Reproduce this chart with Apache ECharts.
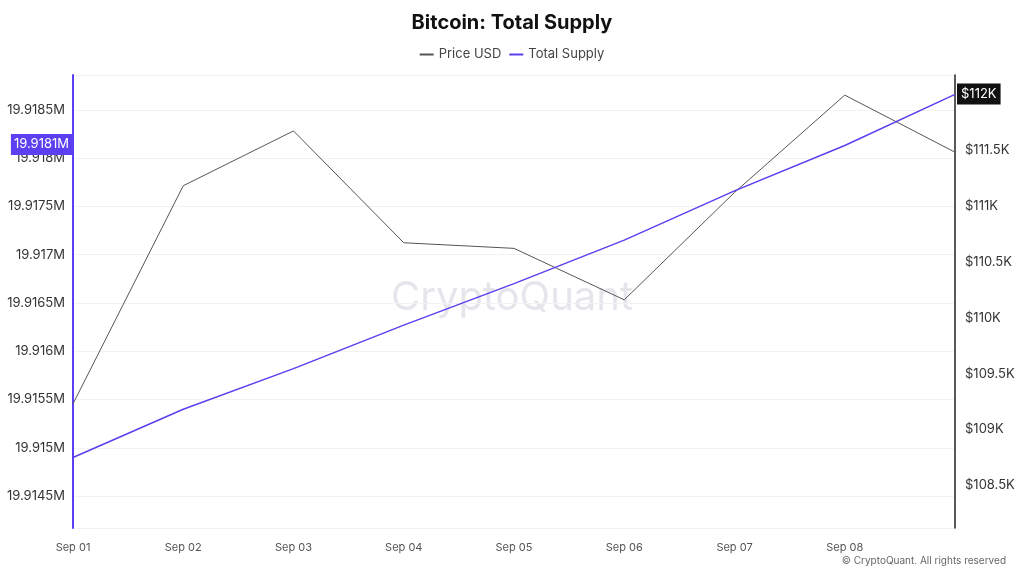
<!DOCTYPE html>
<html>
<head>
<meta charset="utf-8">
<script src="https://cdn.jsdelivr.net/npm/echarts@6/dist/echarts.min.js"></script>
<style>html,body{margin:0;padding:0;background:#fff}#main{width:1024px;height:574px}</style>
</head>
<body>
<div id="main"></div>
<script>
// values
var days = ['Sep 01', 'Sep 02', 'Sep 03', 'Sep 04', 'Sep 05', 'Sep 06', 'Sep 07', 'Sep 08', 'Sep 09'];
var priceUsd = [109.23, 111.18, 111.67, 110.67, 110.62, 110.16, 111.12, 111.99, 111.48];
var totalSupply = [19.91490, 19.91540, 19.91582, 19.91627, 19.91670, 19.91715, 19.91766, 19.91813, 19.91866];
var supplyTag = 19.91814;
var priceTag = 112.0;

var myChart = echarts.init(document.getElementById('main'));

var option = {
    title: {
        text: 'Bitcoin: Total Supply',
        left: 'center',
        top: 8,
        textStyle: { fontFamily: 'Inter', fontSize: 20, fontWeight: 'bold', color: '#111' }
    },
    legend: {
        top: 43,
        itemWidth: 14, itemHeight: 2, icon: 'rect',
        textStyle: { fontFamily: 'Inter', fontSize: 13, color: '#444' },
        data: ['Price USD', 'Total Supply']
    },
    grid: { left: 73, right: 69, top: 75, bottom: 46 },
    graphic: [
        { type: 'text', left: 'center', top: 278,
          style: { text: 'CryptoQuant', font: '40px Inter', fill: 'rgba(180,180,200,0.35)' } },
        { type: 'text', right: 18, bottom: 8,
          style: { text: '© CryptoQuant. All rights reserved', font: '10px Inter', fill: '#666' } }
    ],
    xAxis: {
        type: 'category',
        boundaryGap: false,
        data: days,
        axisLine: { show: false },
        axisTick: { show: false },
        axisLabel: {
            fontFamily: 'Inter', fontSize: 11, color: '#555', margin: 14,
            formatter: function (v, i) { return i === days.length - 1 ? '' : v; }
        }
    },
    yAxis: [
        {
            type: 'value', position: 'left',
            min: 19.91417, max: 19.91886, splitNumber: 9,
            axisLine: { show: true, lineStyle: { color: '#5b3ff0', width: 2 } },
            axisTick: { show: false },
            splitLine: { lineStyle: { color: '#f2f2f2' } },
            axisLabel: {
                showMinLabel: false, showMaxLabel: false,
                fontFamily: 'Inter', fontSize: 13, color: '#333',
                formatter: function (v) { return +(v).toFixed(4) + 'M'; }
            }
        },
        {
            type: 'value', position: 'right',
            min: 108.12, max: 112.17, splitNumber: 8,
            axisLine: { show: true, lineStyle: { color: '#222', width: 1.5 } },
            axisTick: { show: false },
            splitLine: { show: false },
            axisLabel: {
                showMinLabel: false, showMaxLabel: false,
                fontFamily: 'Inter', fontSize: 13, color: '#333', margin: 10,
                formatter: function (v) { return '$' + (+v.toFixed(1)) + 'K'; }
            }
        }
    ],
    series: [
        {
            name: 'Price USD', type: 'line', yAxisIndex: 1,
            data: priceUsd, symbol: 'none',
            itemStyle: { color: '#555' },
            lineStyle: { color: '#555', width: 1 },
            markLine: {
                silent: true, symbol: 'none',
                lineStyle: { color: 'rgba(0,0,0,0)', width: 0 },
                label: {
                    show: true, position: 'end', formatter: '$' + priceTag.toFixed(0) + 'K',
                    backgroundColor: '#111', color: '#fff', padding: [4, 4],
                    fontFamily: 'Inter', fontSize: 13, distance: 2
                },
                data: [{ yAxis: priceTag }]
            }
        },
        {
            name: 'Total Supply', type: 'line', yAxisIndex: 0,
            data: totalSupply, symbol: 'none',
            itemStyle: { color: '#5b3ff0' },
            lineStyle: { color: '#5b3ff0', width: 1.5 },
            markPoint: {
                silent: true, symbol: 'rect', symbolSize: 0,
                label: {
                    show: true, position: 'left', formatter: supplyTag.toFixed(4) + 'M',
                    backgroundColor: '#5b3ff0', color: '#fff', padding: [4, 3],
                    fontFamily: 'Inter', fontSize: 13, distance: 1
                },
                data: [{ coord: [days[0], supplyTag] }]
            }
        }
    ]
};
myChart.setOption(option);
</script>
</body>
</html>
